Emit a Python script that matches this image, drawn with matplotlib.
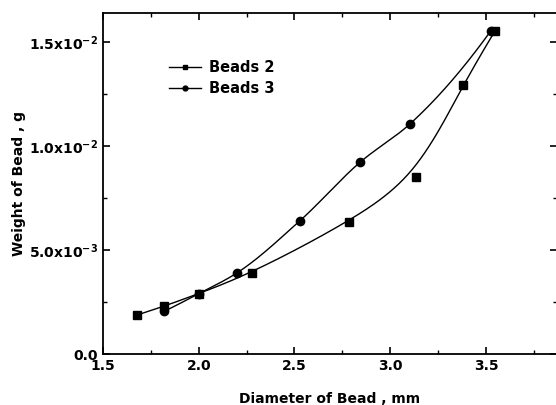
import numpy as np
import matplotlib
matplotlib.use("Agg")
import matplotlib.pyplot as plt
from matplotlib.ticker import MultipleLocator, FixedLocator, FixedFormatter

# Data
d2 = [1.68, 1.82, 2.00, 2.28, 2.786, 3.133, 3.378, 3.547]
w2 = [1.88e-3, 2.3e-3, 2.9e-3, 3.9e-3, 6.35e-3, 8.51e-3, 12.92e-3, 15.53e-3]
d3 = [1.82, 2.00, 2.20, 2.529, 2.844, 3.103, 3.525]
w3 = [2.05e-3, 2.9e-3, 3.9e-3, 6.41e-3, 9.23e-3, 11.06e-3, 15.53e-3]

yticks = [0.0, 5.0e-3, 1.0e-2, 1.5e-2]
ytick_labels = ["0.0", r"5.0x10$^{\mathbf{-3}}$", r"1.0x10$^{\mathbf{-2}}$", r"1.5x10$^{\mathbf{-2}}$"]
xticks = [1.5, 2.0, 2.5, 3.0, 3.5]
xtick_labels = ["1.5", "2.0", "2.5", "3.0", "3.5"]


def bspline(x, y, n=40):
    P = np.column_stack([x, y])
    P = np.vstack([P[0], P[0], P, P[-1], P[-1]])
    t = np.linspace(0, 1, n)
    b0 = (1 - t) ** 3 / 6
    b1 = (3 * t ** 3 - 6 * t ** 2 + 4) / 6
    b2 = (-3 * t ** 3 + 3 * t ** 2 + 3 * t + 1) / 6
    b3 = t ** 3 / 6
    pts = []
    for i in range(len(P) - 3):
        seg = (np.outer(b0, P[i]) + np.outer(b1, P[i + 1]) +
               np.outer(b2, P[i + 2]) + np.outer(b3, P[i + 3]))
        pts.append(seg)
    pts = np.vstack(pts)
    return pts[:, 0], pts[:, 1]


def pchip(x, y, n=300):
    x = np.asarray(x, float)
    y = np.asarray(y, float)
    h = np.diff(x)
    dl = np.diff(y) / h
    k = len(x)
    m = np.zeros(k)
    for i in range(1, k - 1):
        if dl[i - 1] * dl[i] > 0:
            w1 = 2 * h[i] + h[i - 1]
            w2 = h[i] + 2 * h[i - 1]
            m[i] = (w1 + w2) / (w1 / dl[i - 1] + w2 / dl[i])
    m[0] = ((2 * h[0] + h[1]) * dl[0] - h[0] * dl[1]) / (h[0] + h[1])
    m[-1] = ((2 * h[-1] + h[-2]) * dl[-1] - h[-1] * dl[-2]) / (h[-1] + h[-2])
    xs = np.linspace(x[0], x[-1], n)
    idx = np.clip(np.searchsorted(x, xs) - 1, 0, k - 2)
    hh = h[idx]
    t = (xs - x[idx]) / hh
    h00 = 2 * t ** 3 - 3 * t ** 2 + 1
    h10 = t ** 3 - 2 * t ** 2 + t
    h01 = -2 * t ** 3 + 3 * t ** 2
    h11 = t ** 3 - t ** 2
    ys = (h00 * y[idx] + h10 * hh * m[idx] + h01 * y[idx + 1] + h11 * hh * m[idx + 1])
    return xs, ys


plt.rcParams['font.family'] = ['DejaVu Sans']
plt.rcParams['mathtext.default'] = 'bf'
fig = plt.figure(figsize=(5.56, 4.05), dpi=100)
ax = fig.add_axes([103 / 556, 1 - 354 / 405, (557 - 103) / 556, (354 - 13) / 405])

sx, sy = bspline(d2, w2)
ax.plot(sx, sy, color='black', lw=1.0)
ax.plot(d2, w2, ls='none', marker='s', ms=5.5, color='black')
sx, sy = pchip(d3, w3)
ax.plot(sx, sy, color='black', lw=1.0)
ax.plot(d3, w3, ls='none', marker='o', ms=6, color='black')

# legend proxies
ax.plot([], [], color='black', lw=1.0, marker='s', ms=3.5, label='Beads 2')
ax.plot([], [], color='black', lw=1.0, marker='o', ms=3.5, label='Beads 3')
leg = ax.legend(loc='upper left', bbox_to_anchor=(0.132, 0.88), frameon=False,
                prop={'weight': 'bold', 'size': 10.5}, handlelength=2.2,
                handletextpad=0.55, labelspacing=0.45, borderaxespad=0)

ax.set_xlim(1.5, 3.871)
ax.set_ylim(0, 0.016394)
ax.xaxis.set_major_locator(FixedLocator(xticks))
ax.xaxis.set_major_formatter(FixedFormatter(xtick_labels))
ax.xaxis.set_minor_locator(MultipleLocator(0.25))
ax.yaxis.set_major_locator(FixedLocator(yticks))
ax.yaxis.set_major_formatter(FixedFormatter(ytick_labels))
ax.yaxis.set_minor_locator(MultipleLocator(2.5e-3))
ax.tick_params(which='both', direction='in', top=True, right=True)
ax.tick_params(which='major', length=5, width=1.2, labelsize=10)
ax.tick_params(which='minor', length=3, width=1.0)
for lab in ax.get_xticklabels() + ax.get_yticklabels():
    lab.set_fontweight('bold')
for s in ax.spines.values():
    s.set_linewidth(1.3)

ax.set_xlabel('Diameter of Bead , mm', fontsize=10, fontweight='bold', labelpad=14)
ax.set_ylabel('Weight of Bead , g', fontsize=10, fontweight='bold', labelpad=2)

fig.savefig('out.png', dpi=100)
